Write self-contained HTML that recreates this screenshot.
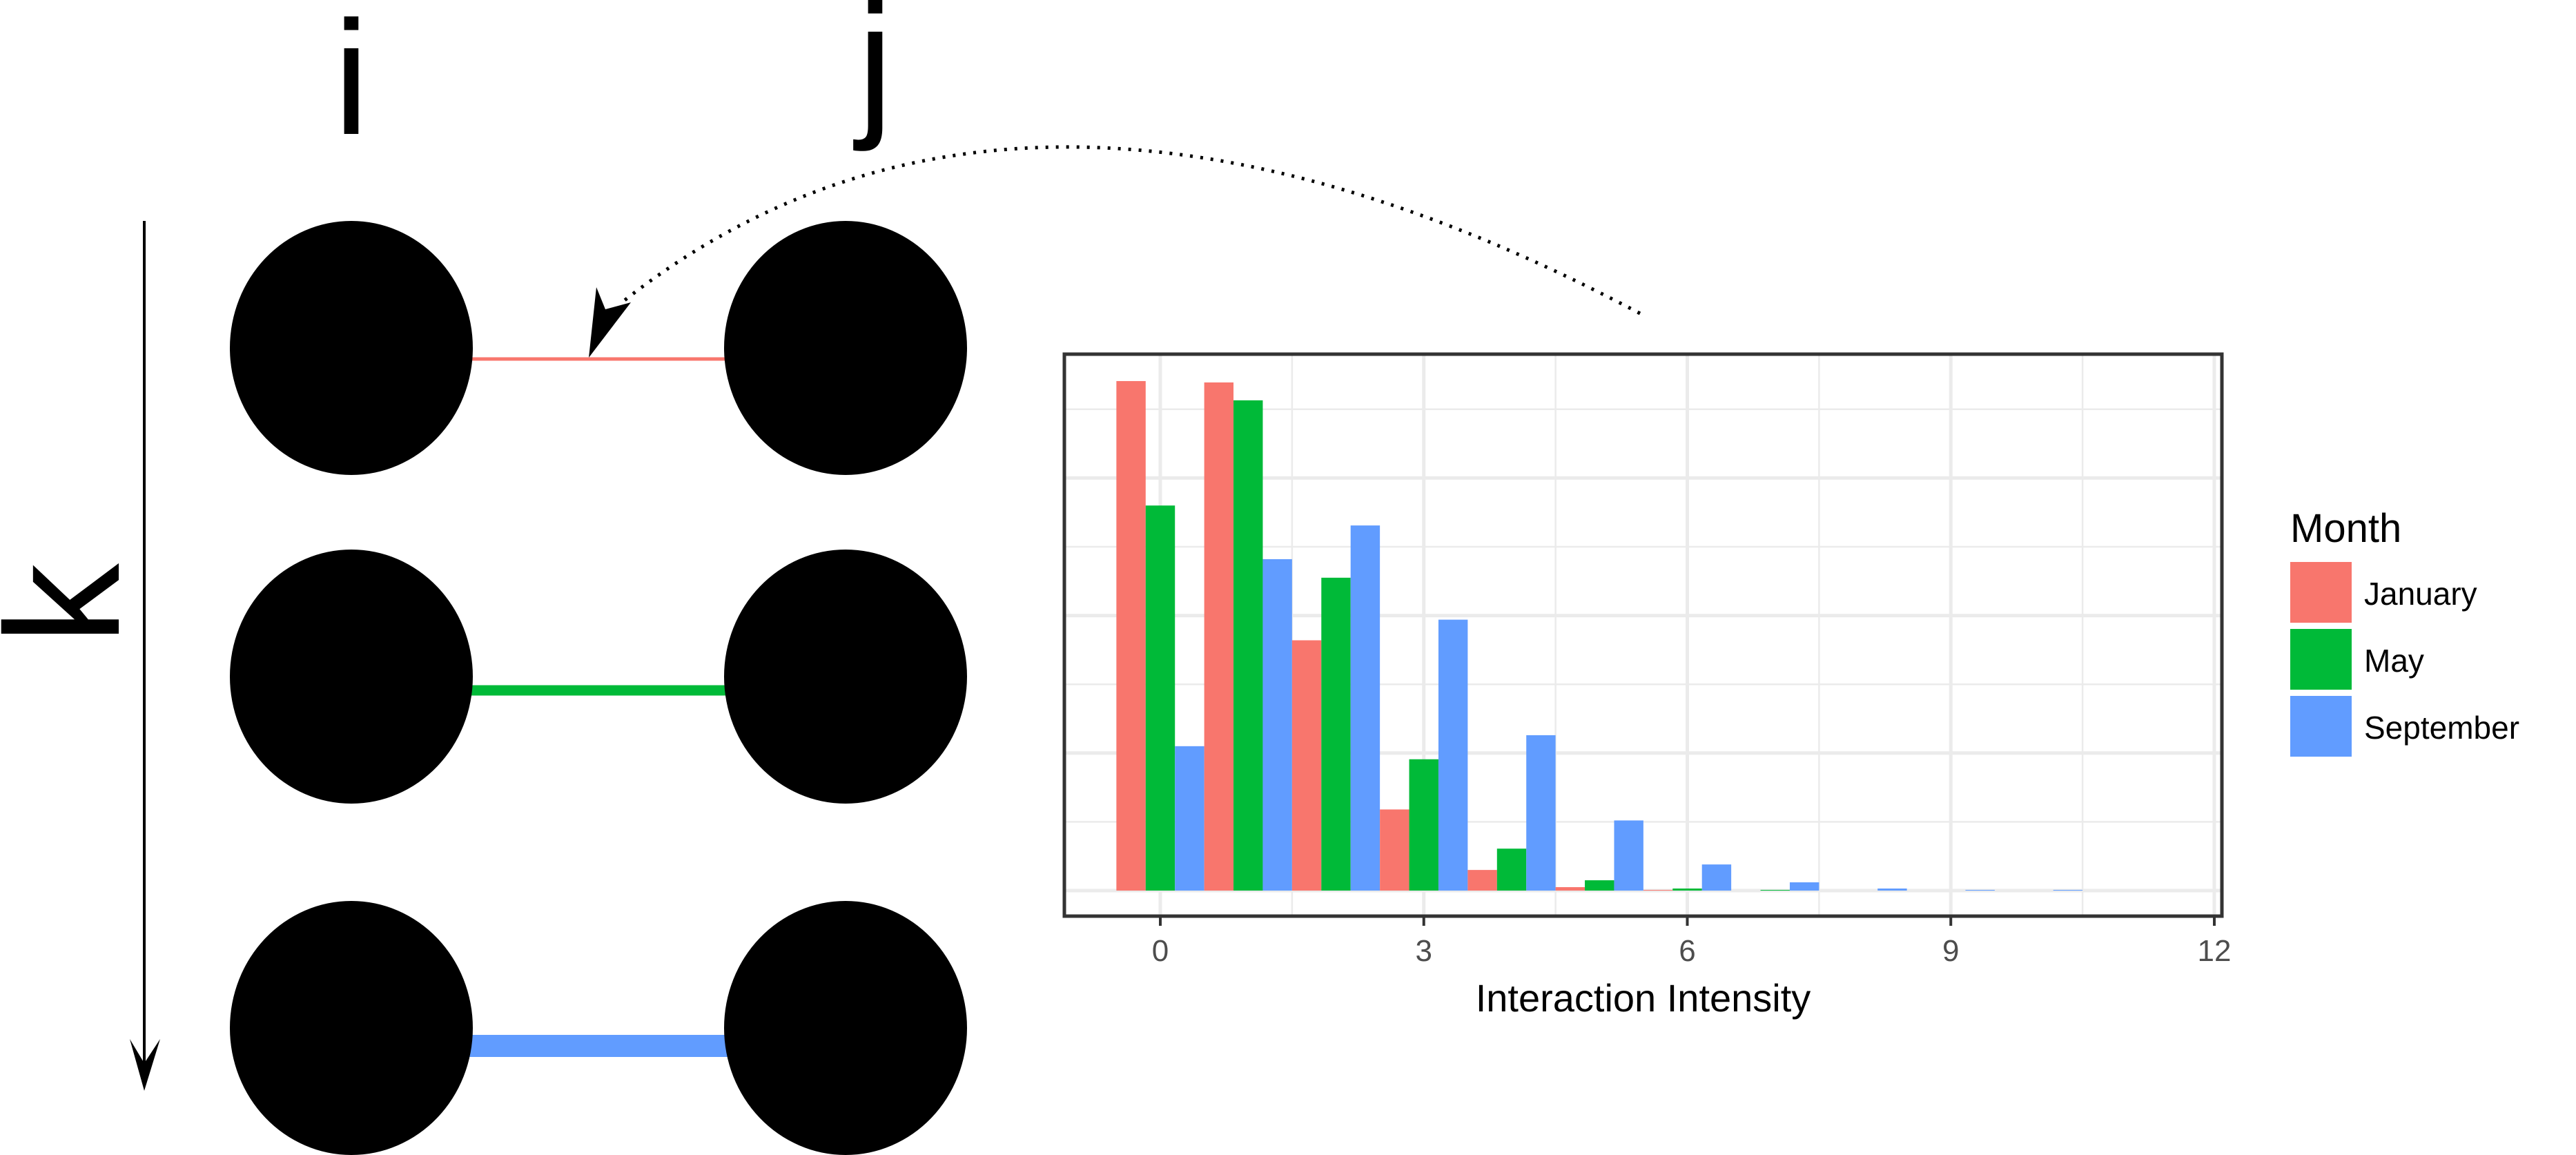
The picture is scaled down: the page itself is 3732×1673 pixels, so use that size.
<!DOCTYPE html>
<html><head><meta charset="utf-8"><style>
html,body{margin:0;padding:0;background:#fff;width:3732px;height:1673px;overflow:hidden}
svg{display:block;font-family:"Liberation Sans",sans-serif}
</style></head><body>
<svg id="fig" width="3732" height="1673" viewBox="0 0 3732 1673">
  <g>
    <text x="509" y="194" font-size="235" text-anchor="middle">i</text>
    <text x="1268" y="170" font-size="235" text-anchor="middle">j</text>
    <text x="0" y="0" font-size="235" text-anchor="middle" transform="translate(172,875) rotate(-90)">k</text>
    <line x1="209" y1="320" x2="209" y2="1560" stroke="#000" stroke-width="4"/>
    <polygon points="188,1505 209,1580 232,1505 209,1540" fill="#000"/>
    <line x1="680" y1="520" x2="1055" y2="520" stroke="#F8766D" stroke-width="5"/>
    <line x1="680" y1="1000" x2="1055" y2="1000" stroke="#00BA38" stroke-width="15"/>
    <line x1="680" y1="1515" x2="1055" y2="1515" stroke="#619CFF" stroke-width="32"/>
    <ellipse cx="509" cy="504" rx="176" ry="184"/>
    <ellipse cx="1225" cy="504" rx="176" ry="184"/>
    <ellipse cx="509" cy="980" rx="176" ry="184"/>
    <ellipse cx="1225" cy="980" rx="176" ry="184"/>
    <ellipse cx="509" cy="1489" rx="176" ry="184"/>
    <ellipse cx="1225" cy="1489" rx="176" ry="184"/>
    <path d="M2376,454 Q1480,-20 901,438" fill="none" stroke="#000" stroke-width="5" stroke-dasharray="4 11"/>
    <polygon points="864,416 877,448 914,438 853,518" fill="#000"/>
  </g>
  <g id="chart"></g>
</svg>
<script>
const categories = [0,1,2,3,4,5,6,7,8,9,10,11];
const seriesNames = ["January","May","September"];
const january = [7.41,7.39,3.64,1.18,0.30,0.05,0.01,0,0,0,0,0];
const may = [5.60,7.13,4.55,1.91,0.61,0.15,0.03,0.01,0,0,0,0];
const september = [2.10,4.82,5.31,3.94,2.26,1.02,0.38,0.12,0.03,0.01,0.01,0];
const xTicks = [0,3,6,9,12];
const yGrid = [0,1,2,3,4,5,6,7];

const NS="http://www.w3.org/2000/svg";
const colors=["#F8766D","#00BA38","#619CFF"];
const series=[january,may,september];
const PL=1542,PR=3219,PT=513,PB=1327;
const x0=1681,xUnit=(3208-1681)/12;
const base=1290,yUnit=99.6;
const X=v=>x0+v*xUnit;
const Y=v=>base-v*yUnit;
const g=document.getElementById('chart');
function mk(tag,attrs,parent){const e=document.createElementNS(NS,tag);for(const k in attrs)e.setAttribute(k,attrs[k]);(parent||g).appendChild(e);return e;}

const bg=mk('rect',{x:PL,y:PT,width:PR-PL,height:PB-PT,fill:'#fff'});


yGrid.forEach(v=>{
  const l=mk('line',{x1:PL,x2:PR,y1:Y(v),y2:Y(v),stroke:'#ebebeb','stroke-width':v%2===0?5:2.5});
  
  
});
for(let v=0;v<=12;v+=1.5){
  const l=mk('line',{x1:X(v),x2:X(v),y1:PT,y2:PB,stroke:'#ebebeb','stroke-width':(v%3===0)?5:2.5});
  
  
}
const bw=xUnit/3;
categories.forEach((c,i)=>{
  series.forEach((s,j)=>{
    const v=s[i]; if(v<=0) return;
    const r=mk('rect',{x:X(c-0.5)+j*bw,y:Y(v),width:bw,height:base-Y(v),fill:colors[j]});
    
    
  });
});
const fr=mk('rect',{x:PL,y:PT,width:PR-PL,height:PB-PT,fill:'none',stroke:'#333','stroke-width':5});


xTicks.forEach(t=>{
  const tk=mk('line',{x1:X(t),x2:X(t),y1:PB,y2:PB+14,stroke:'#333','stroke-width':4});
  
  
  const tl=mk('text',{x:X(t),y:1392,'font-size':44,fill:'#4d4d4d','text-anchor':'middle'});
  tl.textContent=t;
  
  
});
const xt=mk('text',{x:(PL+PR)/2,y:1465,'font-size':56,fill:'#000','text-anchor':'middle'});
xt.textContent='Interaction Intensity';



const lt=mk('text',{x:3318,y:785,'font-size':58,fill:'#000'});
lt.textContent='Month';


seriesNames.forEach((n,j)=>{
  const ky=814+j*97;
  const k=mk('rect',{x:3318,y:ky,width:89,height:88,fill:colors[j]});
  
  
  const t=mk('text',{x:3425,y:ky+62,'font-size':46,fill:'#000'});
  t.textContent=n;
  
  
});
</script>
</body></html>
